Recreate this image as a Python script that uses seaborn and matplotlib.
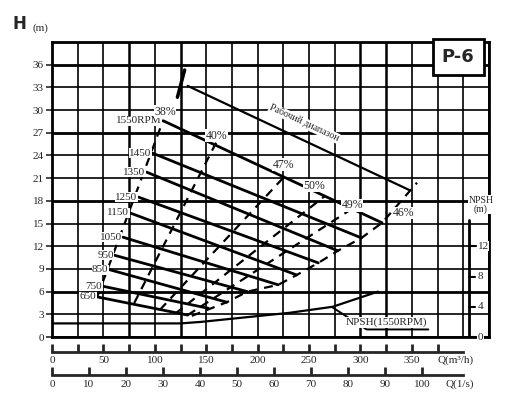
import matplotlib
matplotlib.use("Agg")
import matplotlib.pyplot as plt
import seaborn as sns
import pandas as pd

sns.set_theme(style="white")
plt.rcParams['font.family'] = ['Liberation Serif', 'DejaVu Serif']

rpm_labels = ["1550RPM", "1450", "1350", "1250", "1150", "1050", "950", "850", "750", "650"]
q_start = [108, 98, 92, 84, 76, 69, 61, 56, 50, 44]
h_start = [28.6, 24.3, 21.8, 18.5, 16.4, 13.2, 10.8, 8.9, 6.7, 5.3]
q_end = [321, 301, 278, 259, 238, 220, 190, 170, 152, 132]
h_end = [15.1, 13.1, 11.4, 9.8, 8.2, 6.9, 6.0, 4.6, 3.8, 2.9]

eff_labels = ["38%", "40%", "47%", "50%", "49%"]
eff_q_bottom = [44, 80, 105, 120, 132]
eff_h_bottom = [5.3, 4.5, 3.6, 3.1, 2.9]
eff_q_top = [108, 160, 228, 265, 290]
eff_h_top = [28.6, 25.8, 21.5, 18.6, 16.8]
eff_label_q = [110, 160, 225, 255, 292]
eff_label_h = [29.8, 26.6, 22.8, 20.0, 17.4]

right_q = [136, 170, 190, 220, 238, 259, 278, 301, 321, 355]
right_h = [2.8, 4.6, 6.0, 6.9, 8.2, 9.8, 11.4, 13.1, 15.1, 20.4]

range_q = [132, 348]
range_h = [33.2, 19.4]
range_tick_q = [122, 129]
range_tick_h = [31.7, 35.3]

npsh_q = [0, 125, 145, 231, 273, 317]
npsh_h = [1.8, 1.8, 2.0, 3.2, 4.0, 6.0]

h_ticks = list(range(0, 37, 3))
q_ticks = list(range(0, 351, 50))
ls_ticks = list(range(0, 101, 10))
npsh_ticks = [0, 4, 8, 12]

fig = plt.figure(figsize=(5.24, 4.12), dpi=100)
ax = fig.add_axes([0.0992, 0.182, 0.834, 0.716])
ax.set_xlim(0, 425)
ax.set_ylim(0, 39)

for x in range(0, 426, 25):
    ax.axvline(x, color="black", lw=1.8 if x in (75, 125, 300, 325) else 1.2, zorder=1)
for y in range(0, 40, 3):
    ax.axhline(y, color="black", lw=2.0 if y in (6, 18, 27, 36) else 1.2, zorder=1)

for i in range(len(rpm_labels)):
    sns.lineplot(x=[q_start[i], q_end[i]], y=[h_start[i], h_end[i]], ax=ax,
                 color="black", lw=2.0, zorder=3)
    ax.text(q_start[i] - 1, h_start[i], rpm_labels[i], ha="right", va="center",
            fontsize=8, zorder=5, bbox=dict(facecolor="white", edgecolor="none", pad=0.3))

for i in range(len(eff_labels)):
    sns.lineplot(x=[eff_q_bottom[i], eff_q_top[i]], y=[eff_h_bottom[i], eff_h_top[i]], ax=ax,
                 color="black", lw=1.6, ls=(0, (4, 3)), zorder=3)
    ax.text(eff_label_q[i], eff_label_h[i], eff_labels[i], ha="center", va="center", fontsize=8.5,
            zorder=5, bbox=dict(facecolor="white", edgecolor="none", pad=0.3))

sns.lineplot(x=right_q, y=right_h, ax=ax, color="black", lw=1.6, ls=(0, (4, 3)), sort=False, zorder=3)
ax.text(331, 15.6, "46%", ha="left", va="bottom", fontsize=8.5, zorder=5,
        bbox=dict(facecolor="white", edgecolor="none", pad=0.3))

sns.lineplot(x=range_q, y=range_h, ax=ax, color="black", lw=1.6, zorder=3)
sns.lineplot(x=range_tick_q, y=range_tick_h, ax=ax, color="black", lw=2.5, zorder=3)
ax.text(245, 28.3, "Рабочий диапазон", rotation=-25, ha="center", va="center",
        fontsize=7, zorder=5, bbox=dict(facecolor="white", edgecolor="none", pad=0.3))

sns.lineplot(x=npsh_q, y=npsh_h, ax=ax, color="black", lw=1.6, sort=False, zorder=3)
ax.plot([273, 306, 366], [3.9, 1.0, 1.0], color="black", lw=1.4, zorder=4)
ax.text(286, 1.3, "NPSH(1550RPM)", fontsize=8, ha="left", va="bottom", zorder=5,
        bbox=dict(facecolor="white", edgecolor="none", pad=0.3))

ax.text(395, 37.0, "P-6", fontsize=13, fontweight="bold", family="DejaVu Sans",
        ha="center", va="center", zorder=6,
        bbox=dict(facecolor="white", edgecolor="black", lw=2, boxstyle="square,pad=0.5"))

# NPSH right scale
ax.plot([406, 406], [0, 15.5], color="black", lw=2, zorder=4)
for t in npsh_ticks:
    ax.plot([406, 411], [t, t], color="black", lw=1.5, zorder=4)
    ax.text(414, t, str(t), fontsize=8, ha="left", va="center", zorder=6,
            bbox=dict(facecolor="white", edgecolor="none", pad=0.3))
ax.text(417, 16.3, "NPSH\n(m)", fontsize=7, ha="center", va="bottom", linespacing=0.9,
        zorder=6, bbox=dict(facecolor="white", edgecolor="none", pad=0.5))

for s in ax.spines.values():
    s.set_linewidth(2)
    s.set_color("black")
ax.set_xticks([])
ax.set_yticks(h_ticks)
ax.set_yticklabels([str(t) for t in h_ticks], fontsize=8)
ax.tick_params(axis="y", direction="out", length=4, width=1.2, left=True, pad=2)
ax.text(-0.09, 1.03, "H", transform=ax.transAxes, fontsize=12, fontweight="bold",
        family="DejaVu Sans", va="bottom")
ax.text(-0.045, 1.03, "(m)", transform=ax.transAxes, fontsize=8, va="bottom")

sx = ax.secondary_xaxis(-0.05)
sx.set_xticks(list(range(0, 376, 25)))
sx.set_xticklabels([str(t) if t in q_ticks else "" for t in range(0, 376, 25)], fontsize=8)
sx.spines["bottom"].set_bounds(0, 400)
sx.spines["bottom"].set_linewidth(2)
sx.tick_params(direction="in", length=6, width=2, pad=3)
ax.text(0.965, -0.078, "Q(m³/h)", transform=ax.transAxes, fontsize=8, ha="right", va="center")

sl = ax.secondary_xaxis(-0.13, functions=(lambda q: q / 3.6, lambda l: l * 3.6))
sl.set_xticks(ls_ticks)
sl.set_xticklabels([str(t) for t in ls_ticks], fontsize=8)
sl.spines["bottom"].set_bounds(0, 400 / 3.6)
sl.spines["bottom"].set_linewidth(2)
sl.tick_params(direction="in", length=6, width=2, pad=3)
ax.text(0.965, -0.16, "Q(1/s)", transform=ax.transAxes, fontsize=8, ha="right", va="center")

fig.savefig("out.png", dpi=100, facecolor="white")
